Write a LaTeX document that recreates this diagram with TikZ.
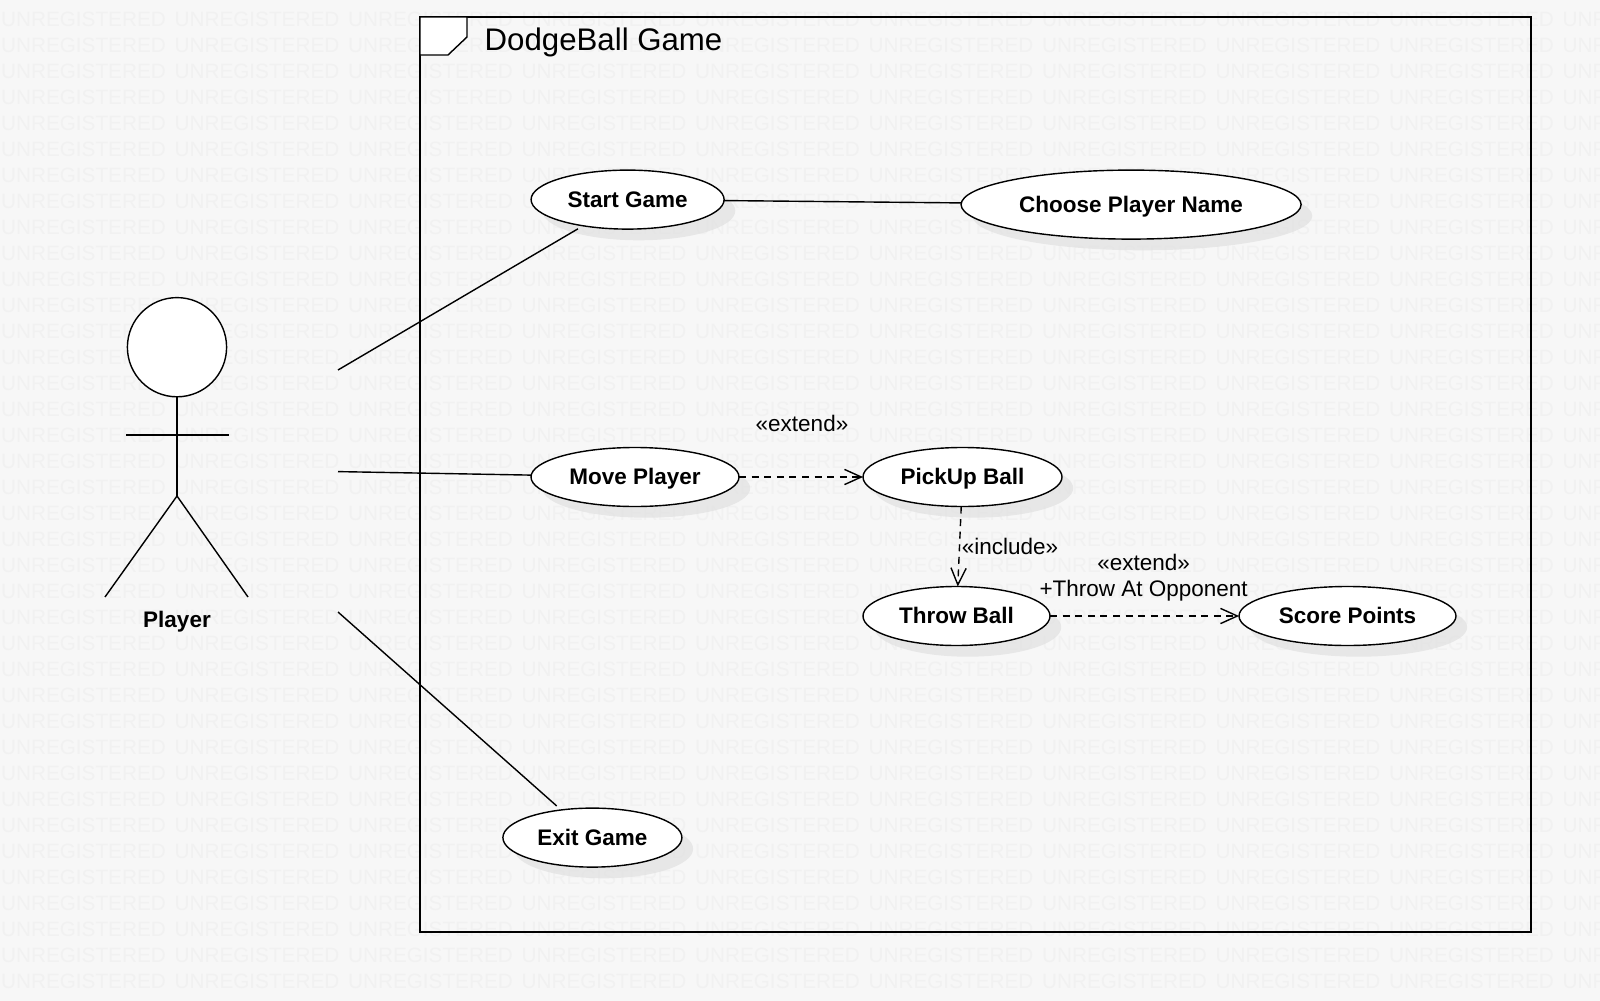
\documentclass[tikz,border=0pt]{standalone}
\usepackage{fontspec}
\setmainfont{Liberation Sans}
\usetikzlibrary{shapes.geometric, arrows.meta, positioning, shadows}
\definecolor{pagegray}{RGB}{247,247,247}
\definecolor{markgray}{RGB}{241,241,241}
\definecolor{shadegray}{RGB}{226,226,226}

\begin{document}
\begin{tikzpicture}[
    line width=1pt,
    usecase/.style={ellipse, draw=black, fill=white, minimum height=1.475cm, inner sep=0pt, outer sep=0pt, font=\fontsize{16}{19}\selectfont\bfseries, text height=0.48cm, text depth=0.1cm, drop shadow={shadow xshift=0.28cm, shadow yshift=-0.28cm, fill=shadegray, opacity=0.75}},
    lbl/.style={inner sep=0pt, align=center, font=\fontsize{16}{18.8}\selectfont},
    watermark/.style={inner sep=0pt, anchor=west, text=markgray, font=\fontsize{14.75}{18}\selectfont},
    assoc/.style={shorten >=0.15cm},
    dep/.style={dash pattern=on 1.75mm off 1.4mm, -{Straight Barb[length=4.2mm, width=3.8mm]}}
]
\useasboundingbox (0,0) rectangle (40,-25.025);

% Page and watermark
\fill[pagegray] (0,0) rectangle (40,-25.025);
\begin{scope}
    \clip (0,0) rectangle (40,-25.025);
    \foreach \row in {0,...,37} {
        \foreach \col in {0,...,9} {
            \node[watermark] (mark-\row-\col) at ({0.01+4.3375*\col},{-0.485-0.65*\row}) {UNREGISTERED};
        }
    }
\end{scope}

% System frame
\draw (10.5,-0.425) rectangle (38.275,-23.3);
\filldraw[fill=white] (10.5,-0.425) -- (11.675,-0.425) -- (11.675,-0.925) -- (11.2,-1.375) -- (10.5,-1.375) -- cycle;
\node[anchor=west, inner sep=0pt, font=\fontsize{22.2}{26}\selectfont] (title) at (12.1,-1.055) {DodgeBall Game};

% Actor
\node[circle, draw=black, fill=white, minimum size=2.48cm, inner sep=0pt, outer sep=0pt] (head) at (4.425,-8.68) {};
\coordinate (hip) at (4.425,-12.4);
\coordinate (armleft) at (3.15,-10.875);
\coordinate (armright) at (5.72,-10.875);
\coordinate (legleft) at (2.625,-14.925);
\coordinate (legright) at (6.2,-14.925);
\node[lbl, font=\fontsize{16}{19}\selectfont\bfseries] (player) at (4.425,-15.55) {Player};
\draw (head) -- (hip);
\draw (armleft) -- (armright);
\draw (legleft) -- (hip) -- (legright);

% Free ends of the associations
\coordinate (playertop) at (8.45,-9.25);
\coordinate (playermid) at (8.45,-11.79);
\coordinate (playerlow) at (8.45,-15.3);

% Use cases
\node[usecase, minimum width=4.825cm] (start) at (15.69,-4.99) {Start Game};
\node[usecase, minimum width=8.5cm, minimum height=1.725cm, right=5.925cm of start, yshift=-0.125cm] (choose) {Choose Player Name};
\node[usecase, minimum width=5.2cm] (move) at (15.875,-11.925) {Move Player};
\node[usecase, minimum width=4.975cm, right=3.1cm of move] (pickup) {PickUp Ball};
\node[usecase, minimum width=4.675cm, below=2cm of pickup, xshift=-0.15cm] (throw) {Throw Ball};
\node[usecase, minimum width=5.425cm, right=4.725cm of throw] (score) {Score Points};
\node[usecase, minimum width=4.475cm] (exit) at (14.81,-20.94) {Exit Game};

% Labels
\node[lbl] (extendone) at (20.05,-10.575) {«extend»};
\node[lbl] (include) at (25.25,-13.67) {«include»};
\node[lbl] (extendtwo) at (28.59,-14.44) {«extend»\\+Throw At Opponent};

% Connectors
\draw[assoc] (playertop) -- (start);
\draw (playermid) -- (move);
\draw[assoc] (playerlow) -- (exit);
\draw (start) -- (choose);
\draw[dep] (move) -- (pickup);
\draw[dep] (pickup) -- (throw);
\draw[dep] (throw) -- (score);

\end{tikzpicture}
\end{document}
